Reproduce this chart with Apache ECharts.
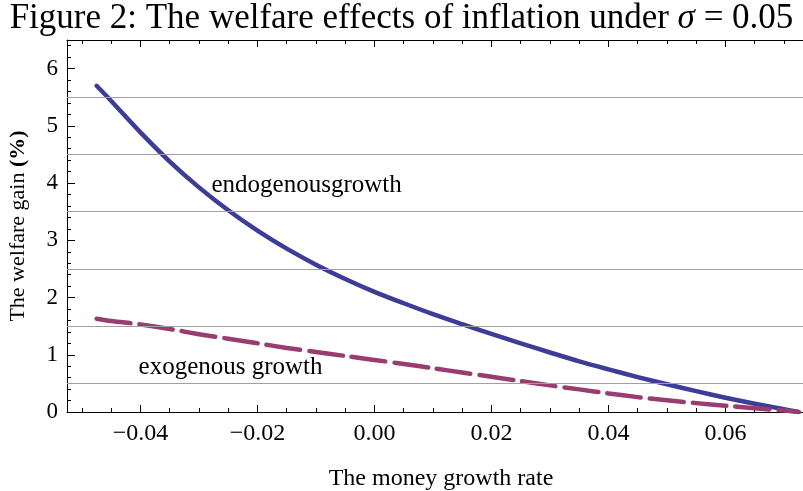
<!DOCTYPE html>
<html>
<head>
<meta charset="utf-8">
<script src="https://cdn.jsdelivr.net/npm/echarts@6/dist/echarts.min.js"></script>
<style>html,body{margin:0;padding:0;background:#fff;}#chart{width:803px;height:491px;}</style>
</head>
<body>
<div id="chart"></div>
<script>
// ---- data ----
const growthRates = [-0.0475, -0.045, -0.04, -0.035, -0.03, -0.025, -0.02, -0.015, -0.01, -0.005, 0.0, 0.005, 0.01, 0.015, 0.02, 0.025, 0.03, 0.035, 0.04, 0.045, 0.05, 0.055, 0.06, 0.065, 0.07, 0.0725];
const endogenousGain = [5.70, 5.435, 4.885, 4.375, 3.925, 3.525, 3.17, 2.855, 2.575, 2.325, 2.10, 1.90, 1.71, 1.535, 1.365, 1.20, 1.04, 0.885, 0.745, 0.61, 0.485, 0.365, 0.25, 0.145, 0.05, 0.0];
const exogenousGain = [1.63, 1.59, 1.53, 1.45, 1.36, 1.28, 1.20, 1.12, 1.05, 0.98, 0.91, 0.84, 0.765, 0.69, 0.615, 0.54, 0.465, 0.395, 0.325, 0.26, 0.205, 0.155, 0.11, 0.065, 0.025, 0.0];
const xMajorTicks = [-0.04, -0.02, 0.0, 0.02, 0.04, 0.06];
const xMinorTicks = [-0.05, -0.045, -0.035, -0.03, -0.025, -0.015, -0.01, -0.005, 0.005, 0.01, 0.015, 0.025, 0.03, 0.035, 0.045, 0.05, 0.055, 0.065, 0.07];
const yMajorTicks = [0, 1, 2, 3, 4, 5, 6];
const yMinorTicks = [0.2, 0.4, 0.6, 0.8, 1.2, 1.4, 1.6, 1.8, 2.2, 2.4, 2.6, 2.8, 3.2, 3.4, 3.6, 3.8, 4.2, 4.4, 4.6, 4.8, 5.2, 5.4, 5.6, 5.8, 6.2, 6.4];
const gridLevels = [0.5, 1.5, 2.5, 3.5, 4.5, 5.5];
const seriesNames = ['endogenous growth', 'exogenous growth'];
const annotationTexts = ['endogenousgrowth', 'exogenous growth'];
const annotationAnchors = [[-0.0116, 3.96], [-0.0246, 0.78]];

const X_MIN = -0.05256, X_MAX = 0.07325, Y_MIN = 0, Y_MAX = 6.5;
const SERIF = '"Liberation Serif", "DejaVu Serif", serif';
const BLUE = '#3d3d99', PURPLE = '#993d71';

const chart = echarts.init(document.getElementById('chart'), null, {renderer: 'canvas'});

function xFmt(v) {
  if (Math.abs(v) < 1e-9) return '0.00';
  return (v < 0 ? '\u2212' : '') + Math.abs(v).toFixed(2);
}

function xAxisDef(position, values, len, showLine, showLabel) {
  return {
    type: 'value', gridIndex: 0, position: position, min: X_MIN, max: X_MAX,
    axisLine: {show: showLine, onZero: false, lineStyle: {color: '#000', width: 1}},
    axisTick: {show: true, inside: true, length: len, customValues: values, lineStyle: {color: '#000', width: 1}},
    axisLabel: showLabel ? {show: true, customValues: values, formatter: xFmt, margin: 10,
      fontFamily: SERIF, fontSize: 24, color: '#000'} : {show: false},
    splitLine: {show: false}
  };
}
function yAxisDef(values, len, showLine, showLabel) {
  return {
    type: 'value', gridIndex: 0, position: 'left', min: Y_MIN, max: Y_MAX,
    axisLine: {show: showLine, onZero: false, lineStyle: {color: '#000', width: 1}},
    axisTick: {show: true, inside: true, length: len, customValues: values, lineStyle: {color: '#000', width: 1}},
    axisLabel: showLabel ? {show: true, customValues: values, margin: 9,
      fontFamily: SERIF, fontSize: 23, color: '#000'} : {show: false},
    splitLine: {show: false}
  };
}

const xAxes = [
  xAxisDef('bottom', xMajorTicks, 7, true, true),
  xAxisDef('bottom', xMinorTicks, 4, false, false),
  xAxisDef('top', xMajorTicks, 7, true, false),
  xAxisDef('top', xMinorTicks, 4, false, false)
];
xAxes[0].name = 'The money growth rate';
xAxes[0].nameLocation = 'middle';
xAxes[0].nameGap = 55;
xAxes[0].nameTextStyle = {fontFamily: SERIF, fontSize: 24, color: '#000', padding: [0, 0, 0, 12]};

const yAxes = [
  yAxisDef(yMajorTicks, 8, true, true),
  yAxisDef(yMinorTicks, 4, false, false)
];
yAxes[0].name = 'The welfare gain {b|(%)}';
yAxes[0].nameLocation = 'middle';
yAxes[0].nameGap = 38;
yAxes[0].nameTextStyle = {fontFamily: SERIF, fontSize: 22, color: '#000',
  rich: {b: {fontFamily: SERIF, fontSize: 22, fontWeight: 'bold', color: '#000'}}};

const option = {
  backgroundColor: '#fff',
  animation: false,
  title: {
    text: 'Figure 2: The welfare effects of inflation under {i|\u03c3} = 0.05',
    left: 'center', top: -4,
    textStyle: {fontFamily: SERIF, fontSize: 35, fontWeight: 'normal', color: '#000',
      rich: {i: {fontFamily: SERIF, fontSize: 35, fontStyle: 'italic', color: '#000'}}}
  },
  grid: {left: 67, right: 0, top: 40, bottom: 79, containLabel: false, outerBoundsMode: 'none'},
  xAxis: xAxes,
  yAxis: yAxes,
  series: [
    {
      name: 'grid', type: 'line', xAxisIndex: 0, yAxisIndex: 0, data: [], z: 1, silent: true,
      markLine: {
        silent: true, symbol: ['none', 'none'], label: {show: false},
        lineStyle: {color: '#a0a0a0', width: 1, type: 'solid'},
        data: gridLevels.map(v => ({yAxis: v}))
      }
    },
    {
      name: seriesNames[0], type: 'line', xAxisIndex: 0, yAxisIndex: 0, z: 3,
      data: growthRates.map((x, i) => [x, endogenousGain[i]]),
      showSymbol: false, smooth: 0.3,
      lineStyle: {color: BLUE, width: 4.5, cap: 'round', join: 'round'},
      markPoint: {
        symbol: 'circle', symbolSize: 0, silent: true,
        label: {show: true, position: 'inside', formatter: p => p.name,
          fontFamily: SERIF, fontSize: 25, color: '#000'},
        data: [{name: annotationTexts[0], coord: annotationAnchors[0]}]
      }
    },
    {
      name: seriesNames[1], type: 'line', xAxisIndex: 0, yAxisIndex: 0, z: 4,
      data: growthRates.map((x, i) => [x, exogenousGain[i]]),
      showSymbol: false, smooth: 0.3,
      lineStyle: {color: PURPLE, width: 4.5, type: [34, 9], cap: 'round', join: 'round'},
      markPoint: {
        symbol: 'circle', symbolSize: 0, silent: true,
        label: {show: true, position: 'inside', formatter: p => p.name,
          fontFamily: SERIF, fontSize: 25, color: '#000'},
        data: [{name: annotationTexts[1], coord: annotationAnchors[1]}]
      }
    }
  ]
};
chart.setOption(option);
</script>
</body>
</html>
